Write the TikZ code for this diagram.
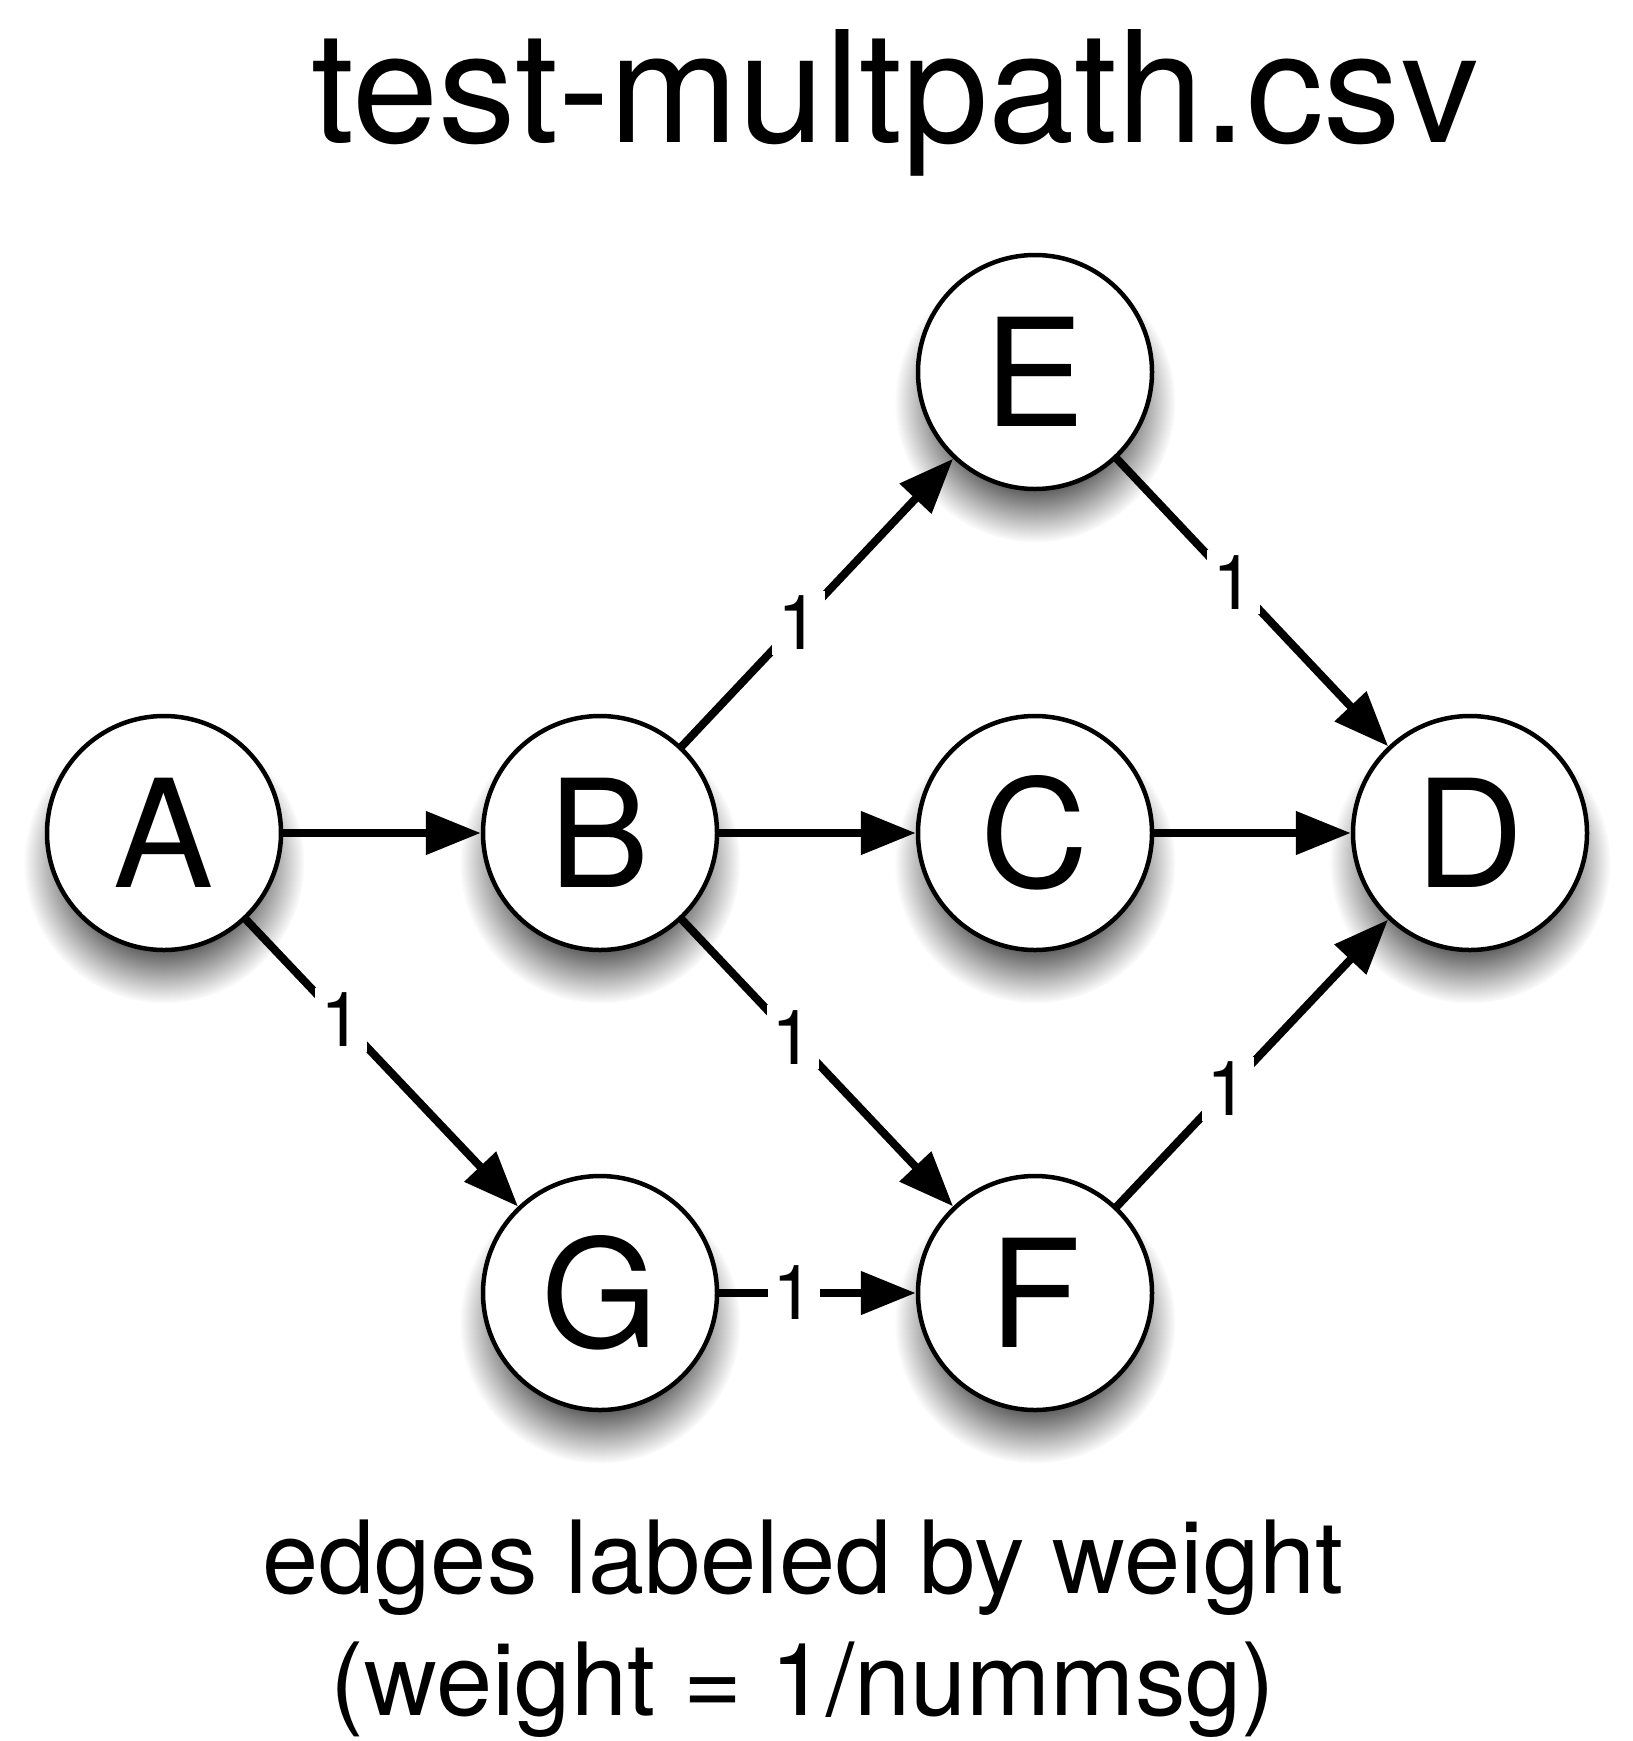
\documentclass[tikz,border=0pt]{standalone}
\usepackage{fontspec}
\setmainfont{TeX Gyre Heros}
\usetikzlibrary{arrows.meta,shadows,fadings}

% soft edge for the node shadows
\pgfdeclareradialshading{softshadowshade}{\pgfpointorigin}{color(0bp)=(pgftransparent!0); color(16bp)=(pgftransparent!0); color(25bp)=(pgftransparent!100); color(50bp)=(pgftransparent!100)}
\pgfdeclarefading{soft shadow}{\pgfuseshading{softshadowshade}}

\tikzset{
  vertex/.style={circle,draw,line width=4.5pt,fill=white,minimum size=234pt,inner sep=0pt,
    font=\fontsize{150}{150}\selectfont,
    circular drop shadow={shadow xshift=0pt,shadow yshift=-25pt,shadow scale=1.2,
      opacity=0.6,fill=black,path fading=soft shadow}},
  link/.style={line width=8pt,line cap=round,-{Triangle[length=55pt,width=42pt]}},
  weight/.style={fill=white,inner sep=5pt,font=\fontsize{76}{76}\selectfont}
}

\begin{document}
\begin{tikzpicture}[x=1pt,y=-1pt]
    \useasboundingbox (0,0) rectangle (1633,1741);

    \node[anchor=base,font=\fontsize{155}{155}\selectfont] (title) at (895,142) {test-multpath.csv};

    \node[vertex] (A) at (164,833) {A};
    \node[vertex] (B) at (600,833) {B};
    \node[vertex] (C) at (1035,833) {C};
    \node[vertex] (D) at (1470,833) {D};
    \node[vertex] (E) at (1035,372) {E};
    \node[vertex] (G) at (600,1293) {G};
    \node[vertex] (F) at (1035,1293) {F};

    \draw[link] (A) -- (B);
    \draw[link] (B) -- (C);
    \draw[link] (C) -- (D);
    \draw[link] (A) -- node[weight,pos=0.35] {1} (G);
    \draw[link] (B) -- node[weight,pos=0.43] {1} (E);
    \draw[link] (E) -- node[weight,pos=0.43] {1} (D);
    \draw[link] (B) -- node[weight,pos=0.41] {1} (F);
    \draw[link] (F) -- node[weight,pos=0.41] {1} (D);
    \draw[link] (G) -- node[weight,pos=0.38] {1} (F);

    \node[anchor=base,font=\fontsize{101}{101}\selectfont] (note1) at (803,1593) {edges labeled by weight};
    \node[anchor=base,font=\fontsize{101}{101}\selectfont] (note2) at (803,1715) {(weight = 1/nummsg)};
\end{tikzpicture}
\end{document}
